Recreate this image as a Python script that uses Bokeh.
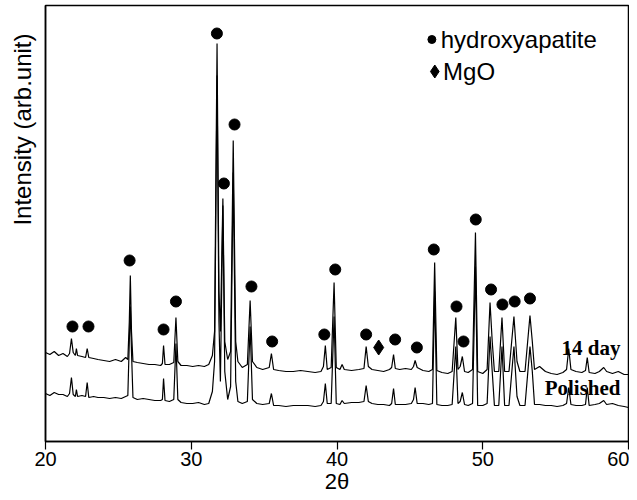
import math
from bokeh.plotting import figure
from bokeh.models import Label, FixedTicker, ColumnDataSource, Title
from bokeh.embed import file_html
from bokeh.resources import INLINE

# ---------------- data ----------------
two_theta = [20.0, 20.3, 20.6, 20.9, 21.2, 21.5, 21.65, 21.78, 21.9, 22.05, 22.12, 22.2, 22.5, 22.75,
             22.86, 22.97, 23.3, 23.6, 24.0, 24.4, 24.8, 25.2, 25.5, 25.65, 25.75, 25.82, 25.9, 26.0,
             26.3, 26.7, 27.1, 27.5, 27.9, 28.02, 28.1, 28.2, 28.5, 28.8, 28.95, 29.08, 29.3, 29.7,
             30.1, 30.5, 30.9, 31.2, 31.45, 31.6, 31.77, 31.9, 32.0, 32.17, 32.3, 32.5, 32.7, 32.88,
             33.05, 33.2, 33.5, 33.85, 34.04, 34.2, 34.5, 34.9, 35.35, 35.5, 35.65, 36.0, 36.5, 37.0,
             37.5, 38.0, 38.5, 38.9, 39.07, 39.2, 39.33, 39.6, 39.8, 39.95, 40.2, 40.35, 40.5, 41.0,
             41.5, 41.85, 42.0, 42.15, 42.4, 42.8, 43.2, 43.6, 43.75, 43.88, 44.0, 44.3, 44.7, 45.1,
             45.25, 45.36, 45.5, 45.9, 46.3, 46.55, 46.7, 46.85, 47.2, 47.6, 47.9, 48.15, 48.3, 48.45,
             48.6, 48.75, 49.0, 49.3, 49.5, 49.65, 50.0, 50.3, 50.5, 50.65, 50.8, 51.1, 51.32, 51.5,
             51.8, 52.14, 52.35, 52.55, 52.9, 53.24, 53.4, 53.55, 53.9, 54.3, 54.7, 55.1, 55.5, 55.75,
             55.9, 56.05, 56.4, 56.8, 57.05, 57.17, 57.3, 57.7, 58.0, 58.3, 58.5, 58.9, 59.3, 59.7, 60.0]

day14 = [89, 87, 90, 86, 88, 85, 88, 103, 89, 86, 93, 86, 85, 84,
         93, 84, 83, 82, 81, 80, 82, 80, 84, 82, 120, 166, 110, 80,
         79, 78, 77, 77, 76, 78, 96, 77, 77, 79, 124, 80, 76, 76,
         75, 76, 75, 77, 86, 110, 398, 150, 110, 243, 100, 82, 90, 301,
         100, 80, 74, 77, 141, 80, 74, 72, 74, 88, 72, 71, 70, 70,
         71, 70, 69, 70, 75, 96, 72, 74, 159, 74, 72, 77, 72, 71,
         72, 73, 95, 75, 72, 71, 70, 72, 74, 87, 73, 72, 73, 72,
         75, 81, 74, 71, 70, 72, 179, 71, 69, 68, 70, 124, 72, 75,
         85, 70, 69, 72, 209, 70, 68, 72, 139, 100, 70, 70, 124, 70,
         70, 125, 80, 70, 70, 126, 100, 72, 75, 70, 68, 67, 69, 72,
         93, 72, 70, 69, 71, 84, 69, 68, 70, 74, 70, 68, 70, 67, 67]

polished = [48, 46, 49, 47, 47, 45, 48, 64, 47, 45, 52, 45, 46, 45,
            59, 44, 45, 44, 44, 43, 44, 43, 45, 46, 100, 135, 90, 44,
            42, 43, 42, 41, 41, 42, 63, 41, 40, 42, 98, 42, 39, 38,
            38, 39, 37, 38, 50, 80, 366, 120, 60, 236, 70, 42, 55, 269,
            60, 40, 38, 40, 115, 42, 38, 37, 38, 48, 36, 36, 35, 36,
            36, 36, 35, 36, 40, 58, 38, 38, 125, 38, 37, 41, 38, 39,
            39, 40, 56, 40, 38, 37, 37, 36, 38, 53, 37, 37, 37, 38,
            42, 54, 38, 38, 37, 38, 150, 37, 36, 36, 37, 95, 38, 40,
            49, 37, 36, 38, 175, 36, 36, 38, 105, 70, 36, 36, 95, 36,
            36, 95, 45, 36, 36, 95, 70, 37, 37, 36, 36, 35, 36, 38,
            54, 37, 36, 36, 37, 54, 36, 37, 38, 41, 37, 38, 36, 35, 34]

hap_x = [21.85, 22.95, 25.77, 28.1, 28.95, 31.76, 32.24, 32.97, 34.13, 35.55, 39.13, 39.88,
         42.0, 43.99, 45.48, 46.64, 48.2, 48.68, 49.52, 50.57, 51.35, 52.19, 53.24]
hap_y = [115, 115, 181, 112, 140, 408, 258, 317, 155, 100, 107, 172,
         107, 102, 94, 192, 135, 100, 222, 152, 137, 140, 143]
mgo_x = [42.86]
mgo_y = [94]

x_ticks = [20, 30, 40, 50, 60]
trace_labels = ["14 day", "Polished"]
legend_names = ["hydroxyapatite", "MgO"]

# ---------------- figure ----------------
p = figure(width=629, height=492, x_range=(20, 60), y_range=(0, 436),
           output_backend="svg", toolbar_location=None,
           min_border_left=45, min_border_right=1, min_border_top=5, min_border_bottom=51)
p.frame_width = 583
p.frame_height = 436
p.grid.visible = False
p.background_fill_color = "white"
p.border_fill_color = "white"
p.outline_line_color = "black"
p.outline_line_width = 1.5
p.outline_line_alpha = 1.0

ya = p.yaxis[0]
ya.ticker = FixedTicker(ticks=[], minor_ticks=[])
ya.major_label_text_font_size = "0px"
ya.major_tick_out = 0
ya.minor_tick_out = 0
ya.axis_line_width = 1.5
ya.axis_line_color = "black"

xa = p.xaxis[0]
xa.ticker = FixedTicker(ticks=x_ticks, minor_ticks=[])
xa.major_tick_out = 8
xa.major_tick_in = 0
xa.minor_tick_out = 0
xa.minor_tick_in = 0
xa.axis_line_width = 1.5
xa.axis_line_color = "black"
xa.major_tick_line_color = "black"
xa.major_tick_line_width = 1.2
xa.major_label_standoff = 2
xa.major_label_text_font = "Liberation Sans"
xa.major_label_text_font_size = "20px"
xa.major_label_text_color = "black"
xa.axis_label = "2θ"
xa.axis_label_text_font = "Liberation Sans"
xa.axis_label_text_font_size = "22px"
xa.axis_label_text_font_style = "normal"
xa.axis_label_text_color = "black"
xa.axis_label_standoff = 0

# y title placed toward the top, as in the original
p.add_layout(Title(text="Intensity (arb.unit)", align="right", offset=28,
                   vertical_align="top",
                   text_font="Liberation Sans", text_font_size="24px",
                   text_font_style="normal", text_color="black", standoff=15), "left")

src = ColumnDataSource(dict(x=two_theta, d14=day14, pol=polished))
p.line("x", "d14", source=src, line_color="black", line_width=1.2)
p.line("x", "pol", source=src, line_color="black", line_width=1.2)

p.scatter(hap_x, hap_y, marker="circle", size=11, fill_color="black", line_color="black")
p.scatter(mgo_x, mgo_y, marker="diamond", size=15, fill_color="black", line_color="black")

# legend (drawn as in the original, inside the frame)
p.scatter([46.51], [402], marker="circle", size=8, fill_color="black", line_color="black")
p.scatter([46.71], [370], marker="diamond", size=13, fill_color="black", line_color="black")
p.add_layout(Label(x=47.12, y=402, text=legend_names[0], text_font="Liberation Sans",
                   text_font_size="24px", text_baseline="middle", text_align="left",
                   text_color="black"))
p.add_layout(Label(x=47.28, y=370, text=legend_names[1], text_font="Liberation Sans",
                   text_font_size="24px", text_baseline="middle", text_align="left",
                   text_color="black"))

# trace labels
p.add_layout(Label(x=59.45, y=94, text=trace_labels[0], text_font="Liberation Serif",
                   text_font_style="bold", text_font_size="21px", text_color="black",
                   text_baseline="middle", text_align="right"))
p.add_layout(Label(x=59.45, y=54, text=trace_labels[1], text_font="Liberation Serif",
                   text_font_style="bold", text_font_size="21px", text_color="black",
                   text_baseline="middle", text_align="right"))

open("out.html", "w").write(file_html(p, INLINE))
